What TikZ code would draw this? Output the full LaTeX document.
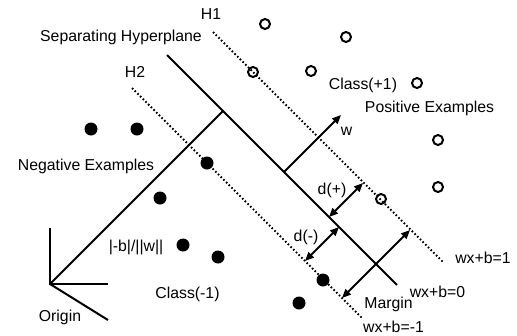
\documentclass[tikz,border=0pt]{standalone}
\usepackage{fontspec}
\setmainfont{Liberation Sans}
\usetikzlibrary{arrows.meta}

\begin{document}
\begin{tikzpicture}[x=1pt,y=-1pt,
  lbl/.style={font=\fontsize{15.8}{18}\selectfont, anchor=base, inner sep=0pt},
  posx/.style={circle, draw, line width=2pt, minimum size=10pt, inner sep=0pt},
  negx/.style={circle, fill, minimum size=13pt, inner sep=0pt},
  solidline/.style={line width=2pt},
  marginline/.style={line width=1.8pt, dash pattern=on 1.6pt off 2.2pt},
  tip/.tip={Triangle[length=9pt,width=7.5pt]},
  twoway/.style={line width=2pt, tip-tip},
  oneway/.style={line width=2pt, -tip},
]
\useasboundingbox (0,0) rectangle (517,335);

% hyperplanes
\coordinate (hpA) at (167,55);  \coordinate (hpB) at (397,285);
\coordinate (h1A) at (213,32);  \coordinate (h1B) at (443,262);
\coordinate (h2A) at (132,88);  \coordinate (h2B) at (363,319);
\draw[solidline] (hpA) -- (hpB);
\draw[marginline] (h1A) -- (h1B);
\draw[marginline] (h2A) -- (h2B);

% origin axes and the offset to the hyperplane
\coordinate (orig) at (50,284);
\coordinate (axY) at (50,228);
\coordinate (axX) at (108,284);
\coordinate (axZ) at (108,320);
\coordinate (foot) at (223,111);
\draw[solidline] (axY) -- (orig) -- (axX);
\draw[solidline] (orig) -- (axZ);
\draw[solidline] (orig) -- (foot);

% normal vector w
\coordinate (wfoot) at (284,172);
\coordinate (wtip) at (341,115);
\draw[oneway] (wfoot) -- (wtip);

% distances
\coordinate (dpA) at (329,217); \coordinate (dpB) at (363,183);
\coordinate (dmA) at (339,227); \coordinate (dmB) at (305,261);
\coordinate (mgA) at (342,298); \coordinate (mgB) at (410,230);
\draw[twoway] (dpA) -- (dpB);
\draw[twoway] (dmA) -- (dmB);
\draw[twoway] (mgA) -- (mgB);

% positive examples
\node[posx] (p1) at (265,24) {};
\node[posx] (p2) at (346,37) {};
\node[posx] (p3) at (253,72) {};
\node[posx] (p4) at (311,71) {};
\node[posx] (p5) at (417,83) {};
\node[posx] (p6) at (438,140) {};
\node[posx] (p7) at (438,187) {};
\node[posx] (p8) at (381,199) {};

% negative examples
\node[negx] (n1) at (91,129) {};
\node[negx] (n2) at (137,129) {};
\node[negx] (n3) at (207,163) {};
\node[negx] (n4) at (160,198) {};
\node[negx] (n5) at (183,245) {};
\node[negx] (n6) at (218,257) {};
\node[negx] (n7) at (323,280) {};
\node[negx] (n8) at (299,303) {};

% labels
\node[lbl] (tH1) at (211,19) {H1};
\node[lbl] (tSep) at (121,41) {Separating Hyperplane};
\node[lbl] (tH2) at (135,77) {H2};
\node[lbl] (tNeg) at (86,170) {Negative Examples};
\node[lbl] (tB) at (136,251) {|-b|/||w||};
\node[lbl] (tCm) at (187.5,298) {Class(-1)};
\node[lbl] (tOrig) at (60,321) {Origin};
\node[lbl] (tCp) at (363,89) {Class(+1)};
\node[lbl] (tPos) at (429.5,112) {Positive Examples};
\node[lbl] (tW) at (346.5,135) {w};
\node[lbl] (tDp) at (332,194) {d(+)};
\node[lbl] (tDm) at (306,241) {d(-)};
\node[lbl] (tE1) at (483,263) {wx+b=1};
\node[lbl] (tE0) at (437.5,297) {wx+b=0};
\node[lbl] (tMg) at (388.5,308) {Margin};
\node[lbl] (tEm) at (393.5,332) {wx+b=-1};
\end{tikzpicture}
\end{document}
